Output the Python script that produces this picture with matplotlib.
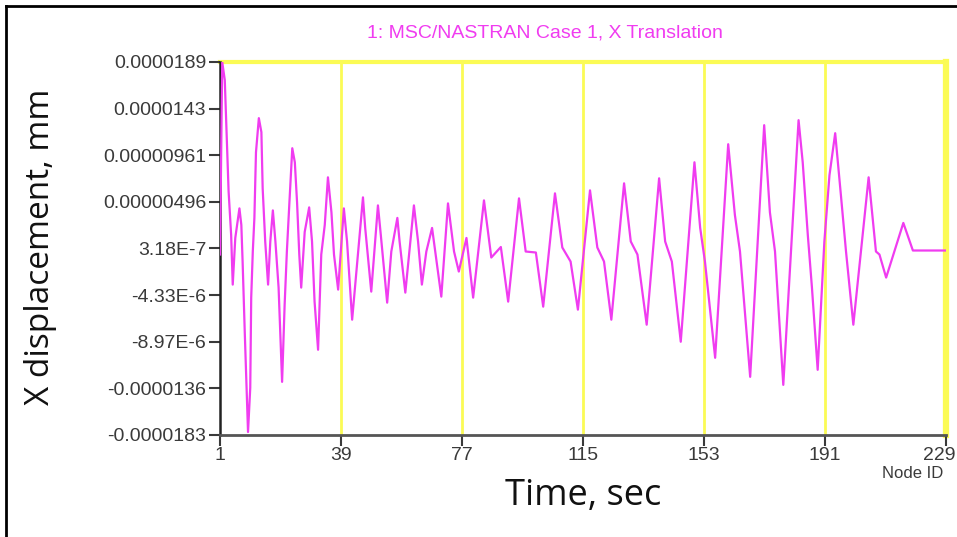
import numpy as np
import matplotlib
matplotlib.use("Agg")
import matplotlib.pyplot as plt
from matplotlib.lines import Line2D
from matplotlib.transforms import ScaledTranslation

# X translation history, node response (values in 1e-6 mm)
time = [1, 1.7, 2.5, 3.7, 4.5, 5.0, 5.8, 7.1, 7.7, 8.1, 8.8, 9.8, 10.5, 10.8,
        11.3, 11.8, 12.3, 13.2, 14.0, 14.4, 15.2, 16.1, 16.8, 17.6, 18.4, 19.4,
        20.5, 21.3, 22.0, 22.8, 23.7, 24.5, 25.2, 25.9, 26.5, 27.6, 29.0, 29.9,
        30.7, 31.8, 32.8, 33.9, 34.9, 36.0, 36.8, 38.1, 39.9, 40.9, 42.5, 45.9,
        46.6, 48.5, 50.6, 51.5, 53.5, 54.8, 56.7, 57.4, 59.2, 61.9, 63.2, 64.4,
        65.8, 67.6, 70.5, 72.6, 74.5, 76.0, 78.4, 80.5, 83.9, 86.2, 89.2, 91.5,
        94.9, 97.0, 100.2, 102.5, 106.2, 108.5, 111.1, 113.4, 117.2, 119.5,
        121.6, 123.9, 127.9, 130.0, 132.1, 135.0, 138.9, 140.8, 142.9, 145.7,
        150.0, 151.8, 153.3, 156.5, 160.6, 162.7, 164.3, 167.5, 171.9, 173.7,
        175.3, 177.9, 182.7, 184.0, 185.6, 186.9, 188.7, 190.8, 192.4, 194.2,
        196.0, 197.6, 199.9, 204.7, 207.0, 208.1, 210.2, 215.6, 218.6, 229]
disp_um = [-0.3, 18.9, 17.1, 6.0, 1.65, -3.3, 1.35, 4.3, 2.65, -1.0, -8.3, -18.0,
           -13.6, -4.6, 0.0, 3.35, 9.9, 13.3, 11.9, 6.3, 1.0, -3.3, 1.0, 4.1,
           1.0, -3.6, -13.0, -5.3, 0.0, 4.9, 10.3, 8.9, 4.9, -0.3, -3.6, 1.95,
           4.4, 1.0, -5.0, -9.8, -0.3, 2.65, 7.4, 3.9, -0.3, -3.8, 4.3, 1.0,
           -6.8, 5.4, 2.35, -4.0, 4.6, 1.65, -5.1, 0.0, 3.35, 1.0, -4.1, 4.6,
           1.0, -3.3, 0.0, 2.35, -4.5, 4.8, 0.0, -2.0, 1.35, -4.6, 5.1, -0.6,
           0.45, -5.0, 5.3, 0.0, -0.1, -5.5, 5.8, 0.4, -1.0, -5.8, 6.1, 0.4,
           -1.0, -6.8, 6.8, 1.0, -0.3, -7.3, 7.3, 1.0, -1.0, -9.0, 8.9, 2.35,
           -1.0, -10.6, 10.7, 3.65, 0.0, -12.5, 12.6, 3.9, 0.0, -13.3, 13.1,
           8.9, 1.65, -3.6, -11.8, 1.0, 7.6, 11.8, 5.6, 0.0, -7.3, 7.4, 0.0,
           -0.3, -2.6, 2.85, 0.1, 0.1]

x_ticks = [1, 39, 77, 115, 153, 191, 229]
y_tick_labels = ["-0.0000183", "-0.0000136", "-8.97E-6", "-4.33E-6", "3.18E-7",
                 "0.00000496", "0.00000961", "0.0000143", "0.0000189"]
y_min, y_max = -1.83e-5, 1.89e-5

magenta = "#f03cf0"
yellow = "#fbfb55"
tick_gray = "#3a3a3a"

fig = plt.figure(figsize=(9.57, 5.37), dpi=100)
ax = fig.add_axes([220 / 957, 1 - 435 / 537, 726 / 957, 373 / 537])

# vertical yellow guide lines at each time tick
for xt in x_ticks[1:-1]:
    ax.axvline(xt, color=yellow, lw=2, zorder=1)

disp = np.array(disp_um) * 1e-6
ax.plot(time, disp, color=magenta, lw=1.6, zorder=3,
        solid_joinstyle="round")

ax.set_xlim(1, 229)
ax.set_ylim(y_min, y_max)
ax.set_xticks(x_ticks)
ax.set_xticklabels([str(t) for t in x_ticks])
ax.set_yticks(np.linspace(y_min, y_max, 9))
ax.set_yticklabels(y_tick_labels)

for side in ["top", "right"]:
    ax.spines[side].set_color(yellow)
    ax.spines[side].set_zorder(0.5)
ax.spines["top"].set_linewidth(3)
ax.spines["right"].set_linewidth(4.5)
ax.spines["left"].set_color("#222222")
ax.spines["left"].set_linewidth(1.8)
ax.spines["bottom"].set_color("#555555")
ax.spines["bottom"].set_linewidth(2)

ax.tick_params(axis="both", direction="out", length=8, width=1.5,
               color=tick_gray, labelcolor=tick_gray, labelsize=14, pad=2)
ax.tick_params(axis="x", pad=1)
for lbl in ax.get_xticklabels() + ax.get_yticklabels():
    lbl.set_family("Liberation Sans")

# last time label sits a little inside the right edge
last = ax.xaxis.get_major_ticks()[-1].label1
last.set_transform(last.get_transform()
                   + ScaledTranslation(-7 / 100, 0, fig.dpi_scale_trans))

ax.set_ylabel("X displacement, mm", fontsize=24, family="Open Sans",
              color="#111111")
ax.yaxis.set_label_coords(-0.225, 0.505)
ax.set_xlabel("Time, sec", fontsize=26, family="Open Sans",
              color="#111111", labelpad=10)

fig.text(545 / 957, 1 - 33 / 537, "1: MSC/NASTRAN Case 1, X Translation",
         color=magenta, fontsize=14, family="Liberation Sans",
         ha="center", va="center")
fig.text(943 / 957, 1 - 473 / 537, "Node ID", color=tick_gray, fontsize=12,
         family="Liberation Sans", ha="right", va="center")

# page frame around the figure
fig.add_artist(Line2D([6 / 957, 1], [1 - 6 / 537, 1 - 6 / 537],
                      transform=fig.transFigure, color="black", lw=2))
fig.add_artist(Line2D([6 / 957, 6 / 957], [0, 1 - 6 / 537],
                      transform=fig.transFigure, color="black", lw=2))

fig.savefig("out.png", dpi=100)
